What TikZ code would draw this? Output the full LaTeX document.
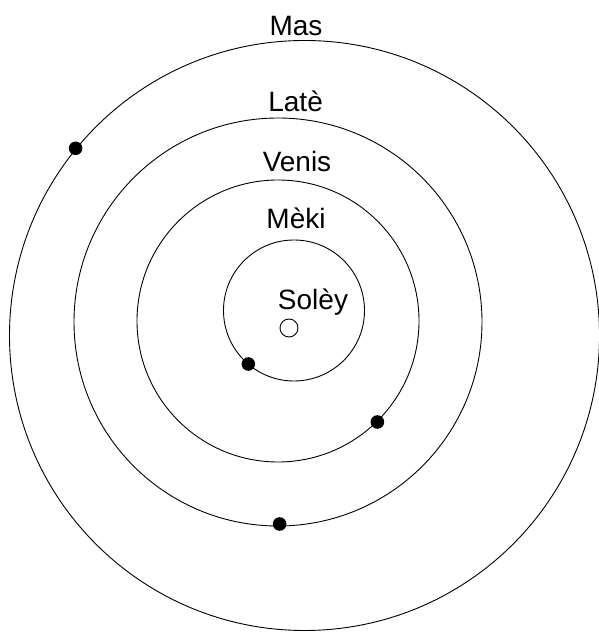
\documentclass[tikz,border=0pt]{standalone}
\usepackage{fontspec}
\setmainfont{Liberation Sans}
\usetikzlibrary{calc}

\begin{document}
\begin{tikzpicture}[x=1pt,y=1pt,line width=0.9pt,
  lbl/.style={anchor=base,inner sep=0pt,font=\fontsize{28}{30}\selectfont}]
\useasboundingbox (0,0) rectangle (599,632);
\draw (304.5,296.5) circle (295); %%Mas
\draw (278,310) circle (204); %%Late
\draw (278,311) circle (141); %%Venis
\draw (294,321.5) circle (70.5); %%Meki
\draw (289,304) circle (9); %%Soley
\fill (75.6,483.7) circle (6.8); %%Mas planet
\fill (279.6,108) circle (6.8); %%Late planet
\fill (377.4,210) circle (6.8); %%Venis planet
\fill (248.3,268) circle (6.8); %%Meki planet
\node[lbl] (mas) at (296,596.5) {Mas};
\node[lbl] (late) at (295.6,520.4) {Latè};
\node[lbl] (venis) at (297,460.7) {Venis};
\node[lbl] (meki) at (296,403) {Mèki};
\node[lbl] (soley) at (313,322.5) {Solèy};
\end{tikzpicture}
\end{document}
